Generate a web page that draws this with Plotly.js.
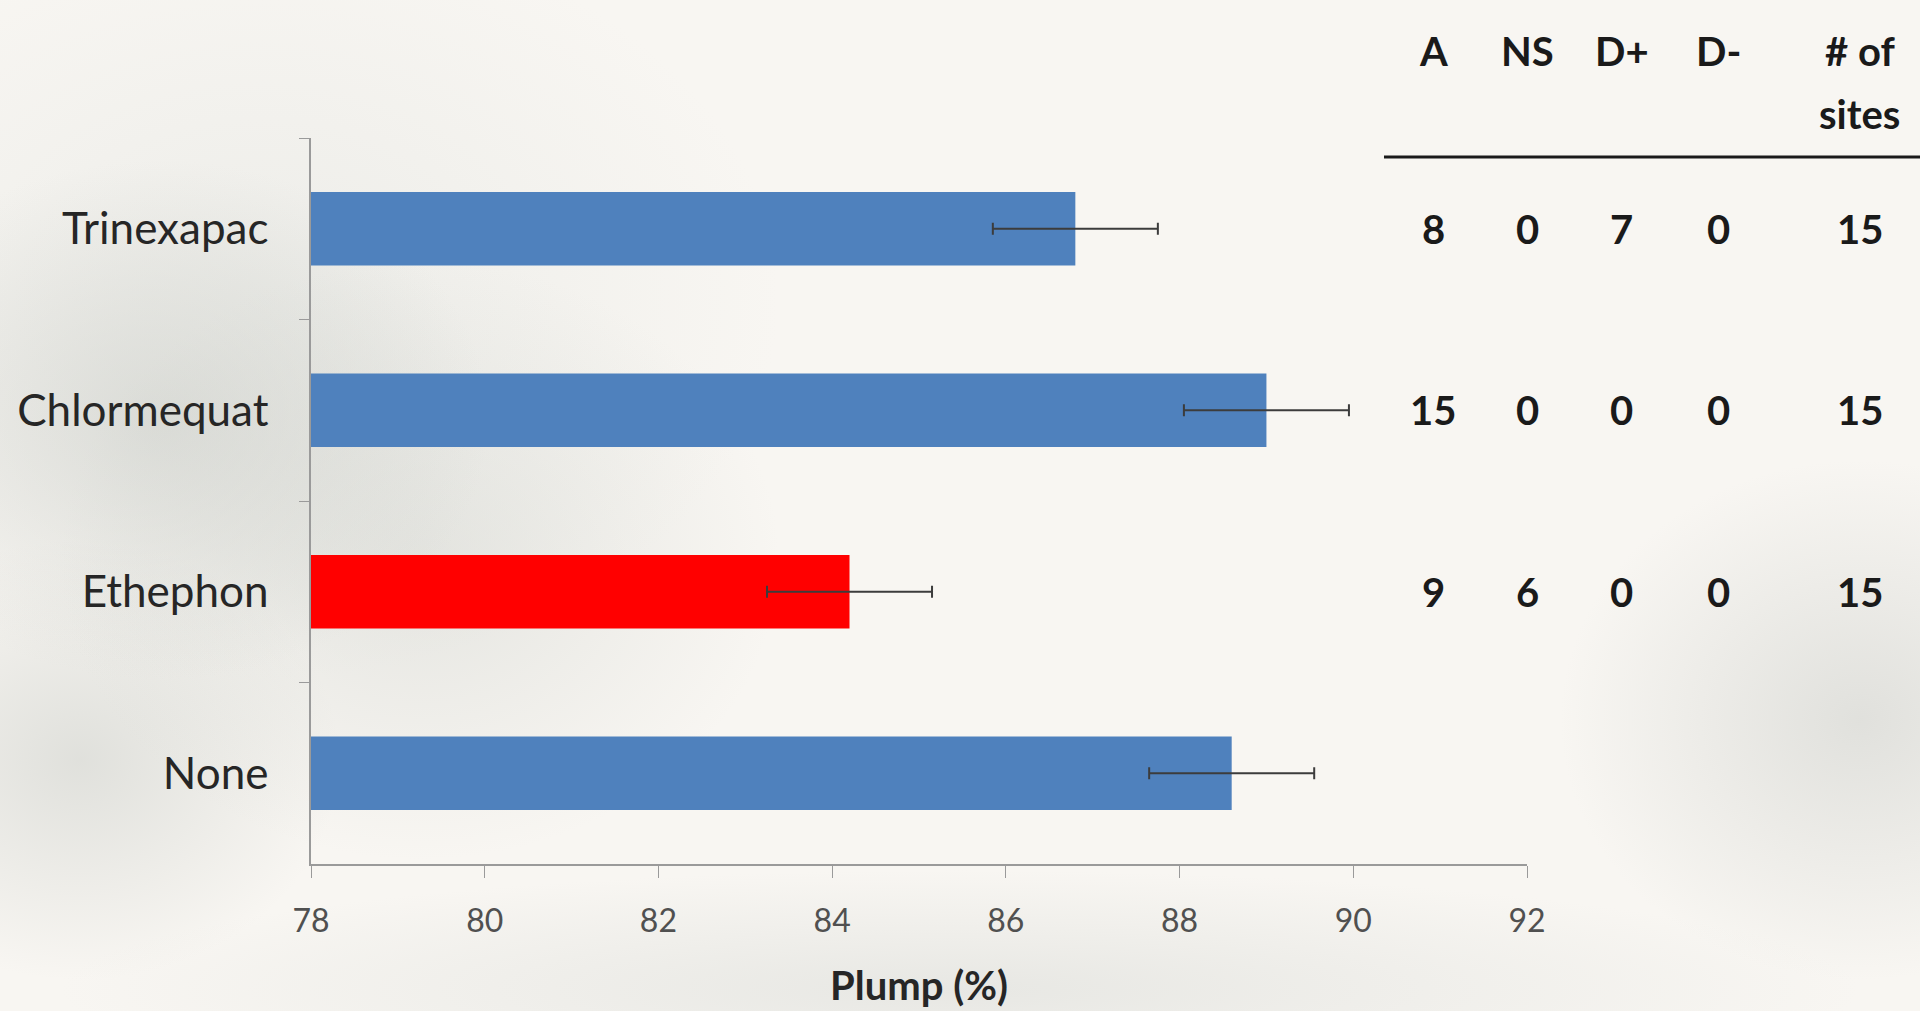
<!DOCTYPE html>
<html>
<head>
<meta charset="utf-8">
<script src="https://cdn.plot.ly/plotly-3.0.1.min.js"></script>
<style>
  html, body { margin: 0; padding: 0; width: 1920px; height: 1011px; overflow: hidden; }
  body {
    background-color: #f8f6f2;
    background-image:
      radial-gradient(ellipse 330px 260px at 160px 420px, rgba(200,203,198,0.55), rgba(200,203,198,0) 100%),
      radial-gradient(ellipse 360px 300px at 420px 560px, rgba(205,208,203,0.45), rgba(205,208,203,0) 100%),
      radial-gradient(ellipse 260px 220px at 80px 760px, rgba(200,203,198,0.5), rgba(200,203,198,0) 100%),
      radial-gradient(ellipse 300px 260px at 1860px 720px, rgba(205,207,203,0.55), rgba(205,207,203,0) 100%),
      radial-gradient(ellipse 900px 120px at 960px 990px, rgba(215,217,213,0.5), rgba(215,217,213,0) 100%),
      radial-gradient(ellipse 520px 380px at 260px 300px, rgba(225,227,223,0.5), rgba(225,227,223,0) 100%);
  }
  #chart { position: absolute; left: 0; top: 0; width: 1920px; height: 1011px; }
</style>
</head>
<body>
<div id="chart"></div>
<script>
// ---- data ----
const categories = ["Trinexapac", "Chlormequat", "Ethephon", "None"];
const plump = [86.8, 89.0, 84.2, 88.6];
const plumpErr = [0.95, 0.95, 0.95, 0.95];
const xTicks = [78, 80, 82, 84, 86, 88, 90, 92];

const tableHeaders = ["A", "NS", "D+", "D-", "# of"];
const tableHeaderLine2 = ["", "", "", "", "sites"];
const tableCats = ["Trinexapac", "Chlormequat", "Ethephon"];
const colA = [8, 15, 9];
const colNS = [0, 0, 6];
const colDplus = [7, 0, 0];
const colDminus = [0, 0, 0];
const colSites = [15, 15, 15];

// ---- drawing ----
const highlight = "Ethephon";
const barColors = categories.map(c => c === highlight ? "#ff0000" : "#4f81bd");

const trace = {
  type: "bar",
  orientation: "h",
  y: categories,
  x: plump,
  marker: { color: barColors },
  error_x: { type: "data", array: plumpErr, visible: true, color: "#3c3c3c", thickness: 2, width: 6 },
  hoverinfo: "x+y"
};

const colX = [0.9227, 1.0008, 1.0781, 1.1571, 1.2738];
const tableFont = { family: "Lato, 'Open Sans', sans-serif", size: 40, color: "#1a1a1a" };

const annotations = [];
tableHeaders.forEach((h, i) => {
  annotations.push({
    xref: "paper", yref: "paper", x: colX[i], y: 1.12,
    text: "<b>" + h + "</b>", showarrow: false, xanchor: "center", yanchor: "middle",
    font: tableFont
  });
  if (tableHeaderLine2[i]) {
    annotations.push({
      xref: "paper", yref: "paper", x: colX[i], y: 1.033,
      text: "<b>" + tableHeaderLine2[i] + "</b>", showarrow: false, xanchor: "center", yanchor: "middle",
      font: tableFont
    });
  }
});
const cols = [colA, colNS, colDplus, colDminus, colSites];
tableCats.forEach((cat, r) => {
  cols.forEach((col, c) => {
    annotations.push({
      xref: "paper", yref: "y", x: colX[c], y: cat,
      text: "<b>" + col[r] + "</b>", showarrow: false, xanchor: "center", yanchor: "middle",
      font: tableFont
    });
  });
});

const layout = {
  width: 1920, height: 1011,
  margin: { l: 311, r: 393, t: 138, b: 147 },
  paper_bgcolor: "rgba(0,0,0,0)",
  plot_bgcolor: "rgba(0,0,0,0)",
  showlegend: false,
  bargap: 0.595,
  font: { family: "Lato, 'Open Sans', sans-serif" },
  xaxis: {
    range: [78, 92],
    tickvals: xTicks,
    ticktext: xTicks.map(String),
    showgrid: false, zeroline: false,
    showline: true, linecolor: "#9a9a9a", linewidth: 2,
    ticks: "outside", ticklen: 12, tickcolor: "#9a9a9a", tickwidth: 1,
    ticklabelstandoff: 16,
    tickfont: { size: 32, color: "#505050" },
    title: { text: "<b>Plump (%)</b>", font: { size: 40, color: "#262626" }, standoff: 34 },
    automargin: false,
    fixedrange: true
  },
  yaxis: {
    type: "category",
    autorange: "reversed",
    showgrid: false, zeroline: false,
    showline: true, linecolor: "#9a9a9a", linewidth: 1.5,
    ticks: "outside", tickson: "boundaries", ticklen: 10, tickcolor: "#9a9a9a", tickwidth: 1,
    ticklabelstandoff: 32,
    tickfont: { size: 44, color: "#262626" },
    automargin: false,
    fixedrange: true
  },
  shapes: [{
    type: "line", xref: "paper", yref: "paper",
    x0: 0.8824, x1: 1.33, y0: 0.9738, y1: 0.9738,
    line: { color: "#1a1a1a", width: 3 }
  }],
  annotations: annotations
};

Plotly.newPlot("chart", [trace], layout, { displayModeBar: false });
</script>
</body>
</html>
